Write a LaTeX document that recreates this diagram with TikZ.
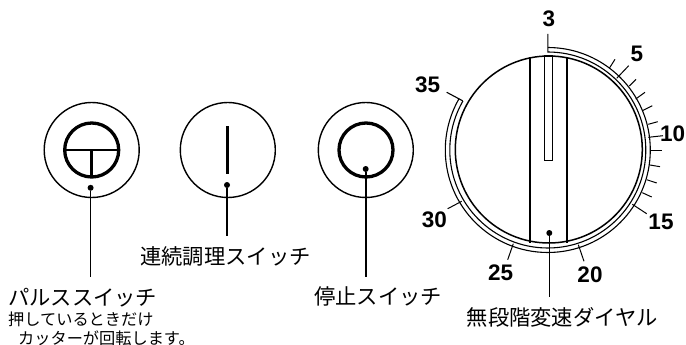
\documentclass[tikz,border=0pt]{standalone}
\usepackage{fontspec}
\setmainfont{Liberation Sans}
\newfontfamily\jpfont{Noto Sans CJK JP}
\tikzset{
  x=1pt,y=-1pt,
  face/.style={circle,draw=black,line width=1.4pt,minimum size=95pt,inner sep=0pt},
  sym/.style={line width=3.3pt,draw=black},
  leader/.style={line width=1.6pt,draw=black},
  pin/.style={circle,fill=black,inner sep=0pt,minimum size=6pt},
  ring/.style={line width=1.1pt,draw=black},
  tickm/.style={line width=1pt,draw=black},
  num/.style={font=\bfseries\fontsize{22.5}{22}\selectfont,inner sep=0pt},
  jpl/.style={font=\jpfont\fontsize{21.3}{22}\selectfont,inner sep=0pt,anchor=west},
  jps/.style={font=\jpfont\fontsize{16.2}{17}\selectfont,inner sep=0pt,anchor=west},
}
\begin{document}
\begin{tikzpicture}
\useasboundingbox (0,0) rectangle (686,345);
% pulse switch
\node[face] (pulse) at (91.7,150) {};
\draw[sym] (91.7,150) circle (27);
\draw[line width=2.2pt] (64.7,150) -- (118.7,150);
\draw[line width=2.8pt] (91.7,150) -- (91.7,177);
\node[pin] (pd) at (90.6,187.8) {};
\coordinate (pe) at (90.6,276.7);
\draw[leader] (pd) -- (pe);
\node[jpl] (pt) at (8,298) {パルススイッチ};
\node[jps] (pt2) at (8,319.3) {押しているときだけ};
\node[jps] (pt3) at (18,338) {カッターが回転します。};
% continuous switch
\node[face] (cont) at (227.8,150) {};
\draw[sym] (227.4,126) -- (227.4,174);
\node[pin] (cd) at (227,185) {};
\coordinate (ce) at (227,235.7);
\draw[leader] (cd) -- (ce);
\node[jpl] (ct) at (140,256.7) {連続調理スイッチ};
% stop switch
\node[face] (stop) at (365.8,150) {};
\draw[sym] (366,150) circle (27);
\node[pin] (sd) at (365.7,169) {};
\coordinate (se) at (365.7,276.7);
\draw[leader] (sd) -- (se);
\node[jpl] (st) at (314,296.7) {停止スイッチ};
% dial
\node[circle,draw=black,line width=1.5pt,minimum size=187pt,inner sep=0pt] (dial) at (548.8,149.5) {};
\draw[leader] (529.7,57.5) -- (529.7,243);
\draw[leader] (566.7,57.5) -- (566.7,243);
\draw[line width=1.1pt] (544.7,56) rectangle (552.3,160.3);
\node[pin] (dd) at (549.3,233) {};
\coordinate (de) at (549.3,297);
\draw[leader] (dd) -- (de);
\node[jpl] (dt) at (466.5,317) {無段階変速ダイヤル};
% scale band
\draw[ring] (547.8,34) -- (547.8,52) arc[start angle=-90,end angle=210,radius=98];
\draw[ring] (547.8,47.5) arc[start angle=-90,end angle=210,radius=102.5];
\draw[ring] (446.7,92.3) -- (462.7,100.8);
% ticks
\foreach \a/\b/\c/\d in {615/59.3/609.3/68.3,628.7/65.7/616.7/78.3,636/79.3/629.3/86,645/92.3/635.7/99,652.3/105.7/642.3/110.7,657.7/121.7/648.3/124.3,663/135.7/648.3/137.3,661.7/150.7/650.7/150.7,660/166.7/650/165,656.7/183/646.7/179.7,651.7/197/642.3/192.7,646.7/213.7/632.3/204.3,584/261.3/578.3/244.7,507.7/259.7/513.3/243.7,447.7/208.7/461.7/201.3}
  \draw[tickm] (\a,\b) -- (\c,\d);
% numbers
\node[num] (n3) at (549,18.3) {3};
\node[num] (n5) at (637,54) {5};
\node[num] (n10) at (672.7,133.3) {10};
\node[num] (n15) at (661,222) {15};
\node[num] (n20) at (590,274.7) {20};
\node[num] (n25) at (500.7,273) {25};
\node[num] (n30) at (434.3,219.7) {30};
\node[num] (n35) at (427.7,85) {35};
\end{tikzpicture}
\end{document}
